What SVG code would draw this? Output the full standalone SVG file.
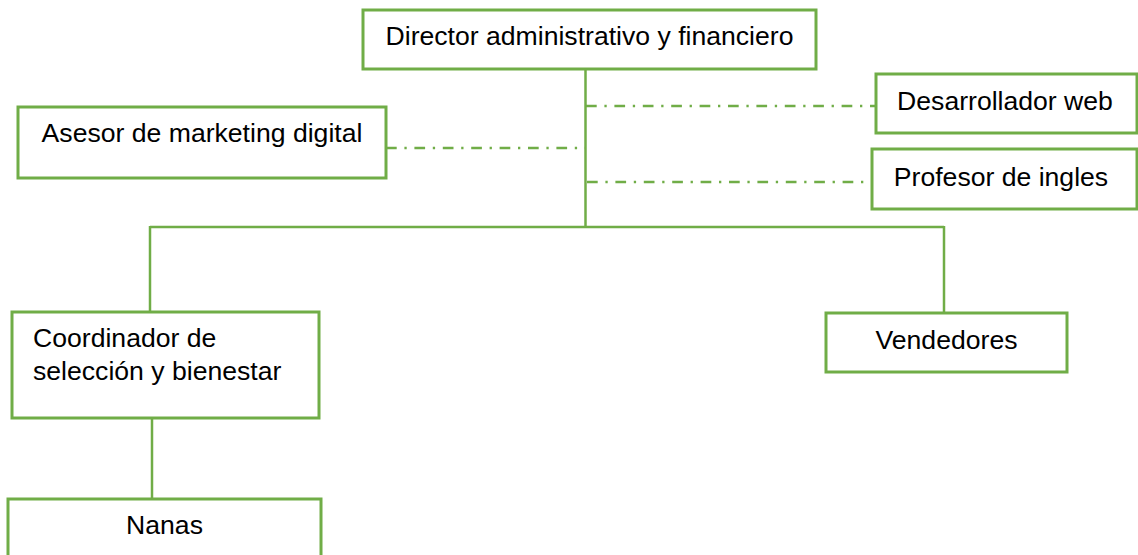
<svg xmlns="http://www.w3.org/2000/svg" width="1138" height="555" viewBox="0 0 1138 555">
  <style>
    .box { fill: #ffffff; stroke: #70ad47; stroke-width: 3; }
    .lbl { font-family: "Liberation Sans", Arial, sans-serif; font-size: 26.6px; fill: #000000; }
    .mid { text-anchor: middle; }
    .solid { fill: none; stroke: #70ad47; stroke-width: 2.5; }
    .dashdot { fill: none; stroke: #70ad47; stroke-width: 2.5; stroke-dasharray: 10.7 7.7 2.3 7.7; }
  </style>
  <rect width="1138" height="555" fill="#ffffff"/>

  <!-- connectors -->
  <g id="connectors">
    <path class="solid" d="M585.5 69 V227"/>
    <path class="solid" d="M150 227 H944"/>
    <path class="solid" d="M150 226 V312"/>
    <path class="solid" d="M944 226 V313"/>
    <path class="solid" d="M152 418 V499"/>
    <path class="dashdot" d="M586 106 H876"/>
    <path class="dashdot" d="M587 182 H872"/>
    <path class="dashdot" d="M386 148 H585"/>
  </g>

  <g id="director">
    <rect class="box" x="363" y="10" width="453" height="59"/>
    <text class="lbl mid" x="589.5" y="45">Director administrativo y financiero</text>
  </g>

  <g id="asesor">
    <rect class="box" x="18" y="107" width="368" height="71"/>
    <text class="lbl mid" x="202" y="142">Asesor de marketing digital</text>
  </g>

  <g id="desarrollador">
    <rect class="box" x="876" y="74" width="261" height="59"/>
    <text class="lbl mid" x="1005" y="110">Desarrollador web</text>
  </g>

  <g id="profesor">
    <rect class="box" x="872" y="149" width="265" height="60"/>
    <text class="lbl mid" x="1001" y="186">Profesor de ingles</text>
  </g>

  <g id="coordinador">
    <rect class="box" x="12" y="312" width="307" height="106"/>
    <text class="lbl" x="33" y="347">Coordinador de</text>
    <text class="lbl" x="33" y="380">selección y bienestar</text>
  </g>

  <g id="vendedores">
    <rect class="box" x="826" y="313" width="241" height="59"/>
    <text class="lbl mid" x="946.5" y="349">Vendedores</text>
  </g>

  <g id="nanas">
    <rect class="box" x="8" y="499" width="313" height="80"/>
    <text class="lbl mid" x="164.5" y="534">Nanas</text>
  </g>
</svg>
